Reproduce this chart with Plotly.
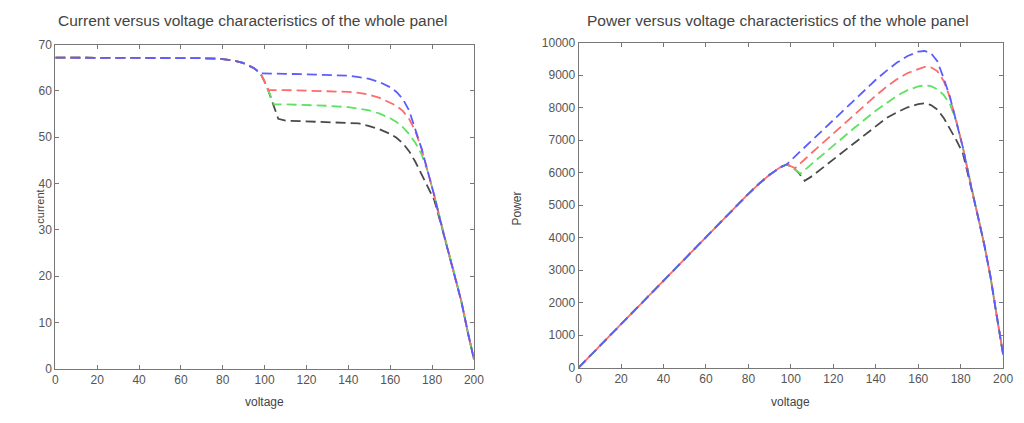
import plotly.graph_objects as go

# Shared part of the curves, before the bypass diodes separate the strings
voltage_common = [0, 20, 40, 60, 70, 80, 85, 90, 95, 98]
current_common = [67.2, 67.2, 67.2, 67.2, 67.1, 66.9, 66.6, 66.0, 64.9, 63.8]
power_common = [0, 1344, 2688, 4032, 4697, 5352, 5661, 5940, 6166, 6252]

# Shared tail near open circuit
voltage_tail = [185, 188, 191, 194, 197, 200]
current_tail = [30.0, 25.0, 20.0, 14.5, 8.0, 2.0]
power_tail = [5550, 4700, 3820, 2813, 1576, 400]

voltage_blue = [100, 110, 120, 130, 140, 145, 150, 155, 160, 163, 166, 169, 172, 175, 178, 181]
current_blue = [63.8, 63.7, 63.6, 63.5, 63.3, 63.0, 62.6, 61.9, 60.8, 59.8, 58.3, 55.8, 51.8, 47.5, 42.5, 37.5]
power_blue = [6380, 7007, 7632, 8255, 8862, 9135, 9390, 9595, 9728, 9747, 9678, 9430, 8910, 8313, 7565, 6788]

voltage_red = [100, 102, 110, 120, 130, 140, 145, 150, 155, 160, 163, 166, 169, 172, 175, 178, 181]
current_red = [62.0, 60.2, 60.2, 60.1, 60.0, 59.8, 59.6, 59.2, 58.5, 57.5, 56.8, 55.7, 54.0, 51.3, 47.5, 42.5, 37.5]
power_red = [6200, 6140, 6622, 7212, 7800, 8372, 8642, 8880, 9068, 9200, 9258, 9246, 9126, 8824, 8313, 7565, 6788]

voltage_green = [100, 102, 104.5, 110, 120, 130, 140, 145, 150, 155, 160, 163, 166, 169, 172, 175, 178, 181]
current_green = [62.0, 59.8, 57.1, 57.1, 57.0, 56.8, 56.5, 56.2, 55.8, 55.1, 54.1, 53.3, 52.2, 50.7, 48.8, 46.3, 42.5, 37.5]
power_green = [6200, 6100, 5967, 6281, 6840, 7384, 7910, 8149, 8370, 8541, 8656, 8688, 8665, 8568, 8394, 8103, 7565, 6788]

voltage_black = [100, 102, 104, 106.5, 110, 120, 130, 140, 145, 150, 155, 160, 163, 166, 169, 172, 175, 178, 181]
current_black = [62.0, 59.8, 57.4, 54.0, 53.6, 53.4, 53.2, 53.1, 53.0, 52.4, 51.7, 50.7, 49.9, 48.7, 47.0, 44.7, 42.0, 39.3, 36.5]
power_black = [6200, 6100, 5970, 5751, 5896, 6408, 6916, 7434, 7685, 7860, 8014, 8112, 8134, 8084, 7943, 7688, 7350, 6995, 6607]

DASH = "10px,5px"
DASH_SHIFTED = "2.5px,5px,7.5px,0px"  # same dash, half a period later

series = [
    ("black", "#4a4a4a", voltage_black, current_black, power_black, DASH),
    ("green", "#5fe25f", voltage_green, current_green, power_green, DASH),
    ("red", "#ff6b6b", voltage_red, current_red, power_red, DASH_SHIFTED),
    ("blue", "#5c5cff", voltage_blue, current_blue, power_blue, DASH),
]

fig = go.Figure()
for name, color, v, i, p, power_dash in series:
    vv = voltage_common + v + voltage_tail
    fig.add_trace(go.Scatter(x=vv, y=current_common + i + current_tail, mode="lines",
                             line=dict(color=color, width=1.8, dash=DASH),
                             xaxis="x", yaxis="y", showlegend=False, name=name))
    fig.add_trace(go.Scatter(x=vv, y=power_common + p + power_tail, mode="lines",
                             line=dict(color=color, width=1.8, dash=power_dash),
                             xaxis="x2", yaxis="y2", showlegend=False, name=name))

W, H = 1024, 423
tickfont = dict(family="Liberation Sans, Arial", size=12, color="#555")
axis_common = dict(showline=True, linecolor="#777", linewidth=1, mirror="allticks",
                   ticks="inside", ticklen=4, tickcolor="#777", showgrid=False,
                   zeroline=False, tickfont=tickfont)

fig.update_layout(
    width=W, height=H,
    margin=dict(l=0, r=0, t=0, b=0),
    paper_bgcolor="white", plot_bgcolor="white",
    xaxis=dict(axis_common, domain=[53 / W, 477 / W], range=[0, 200], dtick=20, anchor="y"),
    yaxis=dict(axis_common, domain=[(H - 374) / H, (H - 39) / H], range=[0, 70], dtick=10, anchor="x"),
    xaxis2=dict(axis_common, domain=[583 / W, 1013 / W], range=[0, 200], dtick=20, anchor="y2"),
    yaxis2=dict(axis_common, domain=[(H - 373) / H, (H - 37) / H], range=[0, 10000], dtick=1000,
                tickformat="d", anchor="x2"),
)

titlefont = dict(family="Liberation Sans, Arial", size=15.5, color="#444")
labelfont = dict(family="Liberation Sans, Arial", size=12, color="#444")
labels = [
    ("Current versus voltage characteristics of the whole panel", 253, 14, 0, titlefont),
    ("Power versus voltage characteristics of the whole panel", 785, 14, 0, titlefont),
    ("voltage", 265, 409, 0, labelfont),
    ("voltage", 798, 409, 0, labelfont),
    ("current", 38, 207, -90, dict(labelfont, size=11)),
    ("Power", 521, 208, -90, labelfont),
]
for text, x, y, ang, font in labels:
    fig.add_annotation(text=text, x=x / W, y=1 - y / H, xref="paper", yref="paper",
                       showarrow=False, textangle=ang, font=font,
                       xanchor="center", yanchor="middle")

fig.write_html("out.html")
